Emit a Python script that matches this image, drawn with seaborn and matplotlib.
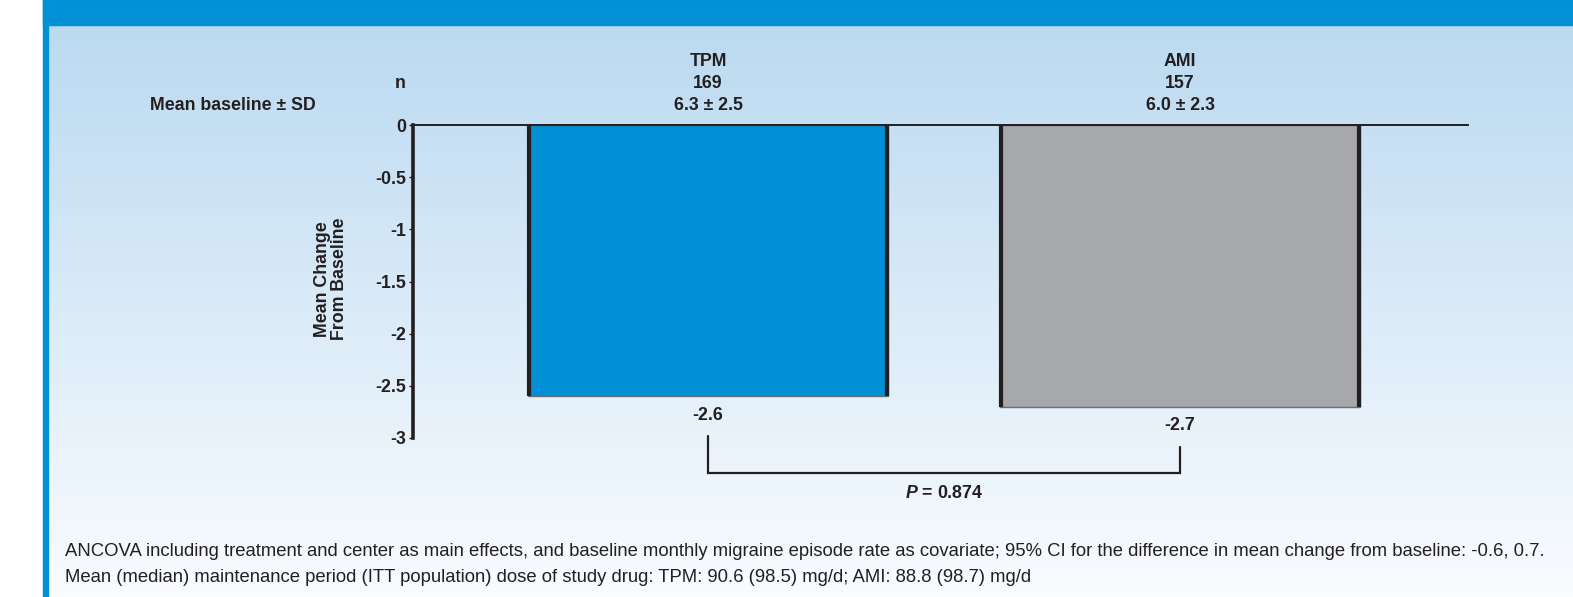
import numpy as np
import pandas as pd
import matplotlib
matplotlib.use("Agg")
import matplotlib.pyplot as plt
import seaborn as sns

# Trial data
groups = ["TPM", "AMI"]
n_patients = [169, 157]
baseline_labels = ["6.3 ± 2.5", "6.0 ± 2.3"]
mean_change = [-2.6, -2.7]
p_value_label = "0.874"
bar_colors = ["#008fd5", "#a7a8ac"]
y_ticks = [0, -0.5, -1, -1.5, -2, -2.5, -3]
y_ticklabels = ["0", "-0.5", "-1", "-1.5", "-2", "-2.5", "-3"]
footnotes = [
    "ANCOVA including treatment and center as main effects, and baseline monthly migraine episode rate as covariate; "
    "95% CI for the difference in mean change from baseline: -0.6, 0.7.",
    "Mean (median) maintenance period (ITT population) dose of study drug: TPM: 90.6 (98.5) mg/d; AMI: 88.8 (98.7) mg/d",
]

sns.set_style("white")
plt.rcParams["font.family"] = ["Liberation Sans", "DejaVu Sans"]
plt.rcParams["mathtext.fontset"] = "custom"
plt.rcParams["mathtext.rm"] = "Liberation Sans:bold"
plt.rcParams["mathtext.bfit"] = "Liberation Sans:bold:italic"

W, H = 1573, 597
fig = plt.figure(figsize=(W / 100, H / 100), dpi=100)
fig.patch.set_facecolor("white")

def px(x, y):
    """Pixel position (from top-left) to figure fraction."""
    return x / W, 1 - y / H

# Panel background: light blue fading to white
bg = fig.add_axes([43 / W, 0, 1 - 43 / W, 1], zorder=0)
top_c = np.array([184, 216, 240]) / 255
bot_c = np.array([250, 252, 255]) / 255
t = np.linspace(0, 1, 300)[:, None]
grad = top_c[None, :] * (1 - t) + bot_c[None, :] * t
bg.imshow(grad[:, None, :], aspect="auto", extent=[0, 1, 0, 1], origin="upper")
bg.set_axis_off()
bg.set_xlim(0, 1)
bg.set_ylim(0, 1)

# Header band and side stripe
band_color = "#0090d6"
fig.patches.append(plt.Rectangle(px(43, 25), 1 - 43 / W, 25 / H, transform=fig.transFigure,
                                 color=band_color, zorder=1))
fig.patches.append(plt.Rectangle((43 / W, 0), 5 / W, 1, transform=fig.transFigure,
                                 color=band_color, zorder=1))

# Main axes
x0, x1 = 413, 1468
y0, y1 = 125, 438
ax = fig.add_axes([x0 / W, 1 - y1 / H, (x1 - x0) / W, (y1 - y0) / H], zorder=3)
ax.patch.set_alpha(0)

FS = 12.8
INK = "#231f20"

df = pd.DataFrame({"group": groups, "change": mean_change})
sns.barplot(data=df, x="group", y="change", hue="group", palette=dict(zip(groups, bar_colors)),
            saturation=1, width=0.763, edgecolor="#6d6e71", linewidth=1.0, legend=False,
            ax=ax, zorder=2)

unit = 472.0
ax.set_xlim(-(708 - x0) / unit, 1 + (x1 - 1180) / unit)
ax.set_ylim(-3, 0)

# Dark vertical edges of each bar
for patch in ax.patches:
    bx, bw, bh = patch.get_x(), patch.get_width(), patch.get_height()
    ax.vlines([bx + 0.003, bx + bw - 0.003], bh, 0, color=INK, lw=3, zorder=3)

ax.set_yticks(y_ticks)
ax.set_yticklabels(y_ticklabels, fontweight="bold", fontsize=FS, color=INK)
ax.set_xticks([])
ax.set_xlabel("")
ax.set_ylabel("")
ax.tick_params(axis="y", direction="out", length=3, width=1, color=INK, pad=2, left=True)
for s in ["right", "bottom"]:
    ax.spines[s].set_visible(False)
ax.spines["left"].set_linewidth(2.6)
ax.spines["left"].set_color(INK)
ax.spines["top"].set_linewidth(1.4)
ax.spines["top"].set_color(INK)

ax.text((331 - x0) / (x1 - x0), (438 - 279) / (y1 - y0), "Mean Change\nFrom Baseline",
        transform=ax.transAxes, rotation=90, ha="center", va="center",
        fontweight="bold", fontsize=FS, color=INK, linespacing=1.0)

# Header labels above each bar
txt = dict(ha="center", va="center", fontweight="bold", fontsize=FS, color=INK,
           textcoords="offset points", annotation_clip=False)
for i, g in enumerate(groups):
    ax.annotate(g, (i, 0), xytext=(0, 64 * 0.72), **txt)
    ax.annotate(str(n_patients[i]), (i, 0), xytext=(0, 41 * 0.72), **txt)
    ax.annotate(baseline_labels[i], (i, 0), xytext=(0, 19 * 0.72), **txt)
    ax.annotate(f"{mean_change[i]:.1f}", (i, mean_change[i]), xytext=(0, -19 * 0.72), **txt)

fig.text(*px(400, 84), "n", ha="center", va="center", fontweight="bold", fontsize=FS, color=INK)
fig.text(*px(316, 106), "Mean baseline ± SD", ha="right", va="center", fontweight="bold",
         fontsize=FS, color=INK)

# Comparison bracket
gap = 40 / 104.3
bracket_y = min(mean_change) - 0.637
xs = [0, 0, 1, 1]
ys = [mean_change[0] - gap, bracket_y, bracket_y, mean_change[1] - gap]
ax.plot(xs, ys, color=INK, lw=1.6, clip_on=False, solid_joinstyle="miter")
ax.annotate(r"$\mathbfit{P}$ = " + p_value_label, (0.5, bracket_y), xytext=(0, -20 * 0.72), **txt)

# Footnotes
for k, line in enumerate(footnotes):
    fig.text(*px(65, 551 + 26 * k), line, ha="left", va="center", fontsize=13.3, color=INK)

fig.savefig("out.png", dpi=100)
